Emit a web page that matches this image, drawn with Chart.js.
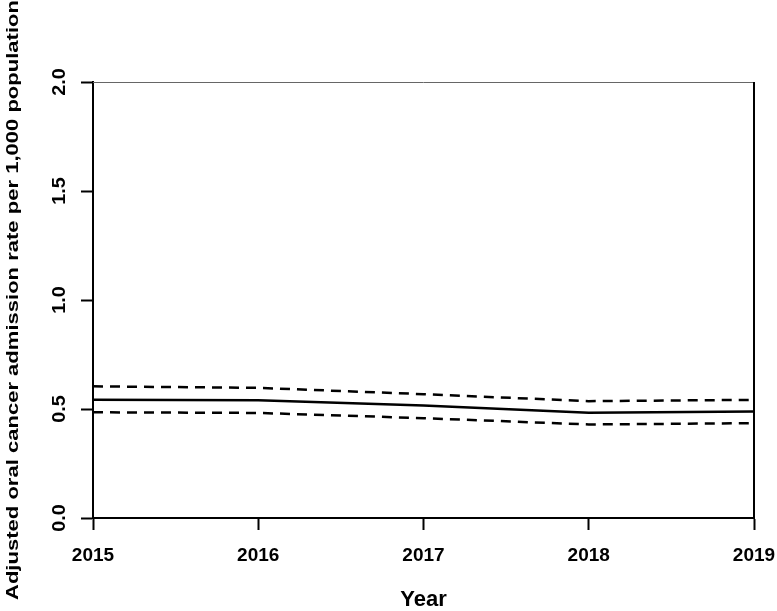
<!DOCTYPE html>
<html>
<head>
<meta charset="utf-8">
<title>Adjusted oral cancer admission rate</title>
<script src="https://cdn.jsdelivr.net/npm/chart.js@4"></script>
<style>
    html, body { margin: 0; padding: 0; background: #fff; }
    #chartWrap { width: 777px; height: 611px; position: relative; }
</style>
</head>
<body>
<div id="chartWrap"><canvas id="rateChart"></canvas></div>
<script>
// Data
const years = ['2015', '2016', '2017', '2018', '2019'];
const rateEstimate = [0.543, 0.540, 0.516, 0.483, 0.488];
const upperLimit = [0.604, 0.597, 0.568, 0.536, 0.542];
const lowerLimit = [0.485, 0.482, 0.458, 0.429, 0.435];
const yTickValues = [0, 0.5, 1.0, 1.5, 2.0];
const yTitle = 'Adjusted oral cancer admission rate per 1,000 population';

const FONT = '"Liberation Sans", Arial, sans-serif';

// R style y labels and y title: rotated, reading bottom to top
const rotatedYText = {
    id: 'rotatedYText',
    afterDraw(chart) {
        const ctx = chart.ctx;
        const yScale = chart.scales.y;
        const area = chart.chartArea;
        ctx.save();
        ctx.fillStyle = '#000';
        ctx.textAlign = 'center';
        ctx.textBaseline = 'alphabetic';

        ctx.font = 'bold 18px ' + FONT;
        yScale.ticks.forEach(tick => {
            const y = yScale.getPixelForValue(tick.value);
            ctx.save();
            ctx.translate(64.5, y);
            ctx.rotate(-Math.PI / 2);
            ctx.scale(1.1, 1);
            ctx.fillText(tick.value.toFixed(1), 0, 0);
            ctx.restore();
        });

        // title is long and narrow in the figure, stretch it along its length
        ctx.font = 'bold 17px ' + FONT;
        const stretch = 600 / ctx.measureText(yTitle).width;
        ctx.save();
        ctx.translate(17.5, (area.top + area.bottom) / 2);
        ctx.rotate(-Math.PI / 2);
        ctx.scale(stretch, 1);
        ctx.fillText(yTitle, 0, 0);
        ctx.restore();

        ctx.restore();
    }
};

// Box round the plot: thin grey top, black right side
const plotFrame = {
    id: 'plotFrame',
    afterDraw(chart) {
        const ctx = chart.ctx;
        const a = chart.chartArea;
        ctx.save();
        ctx.strokeStyle = '#666';
        ctx.lineWidth = 1;
        ctx.beginPath();
        ctx.moveTo(a.left, a.top + 0.5);
        ctx.lineTo(a.right, a.top + 0.5);
        ctx.stroke();
        ctx.strokeStyle = '#000';
        ctx.lineWidth = 2;
        ctx.beginPath();
        ctx.moveTo(a.right, a.top);
        ctx.lineTo(a.right, a.bottom);
        ctx.stroke();
        ctx.restore();
    }
};

function lineDataset(label, values, dashed) {
    return {
        label: label,
        data: values,
        borderColor: '#000',
        borderWidth: 2.5,
        borderDash: dashed ? [10, 7] : [],
        pointRadius: 0,
        tension: 0,
        fill: false
    };
}

function initializeRateChart() {
    const ctx = document.getElementById('rateChart');
    new Chart(ctx, {
        type: 'line',
        data: {
            labels: years,
            datasets: [
                lineDataset('Upper limit', upperLimit, true),
                lineDataset('Adjusted rate', rateEstimate, false),
                lineDataset('Lower limit', lowerLimit, true)
            ]
        },
        options: {
            responsive: true,
            maintainAspectRatio: false,
            animation: false,
            layout: { padding: { top: 82, right: 23, left: 0, bottom: 0 } },
            plugins: {
                legend: { display: false },
                tooltip: { enabled: false }
            },
            scales: {
                x: {
                    offset: false,
                    border: { display: true, color: '#000', width: 2 },
                    grid: {
                        drawOnChartArea: false,
                        drawTicks: true,
                        tickLength: 12,
                        tickWidth: 2,
                        tickColor: '#000'
                    },
                    ticks: {
                        color: '#000',
                        font: { family: FONT, size: 19, weight: 'bold' },
                        padding: 14,
                        maxRotation: 0,
                        autoSkip: false
                    },
                    title: {
                        display: true,
                        text: 'Year',
                        color: '#000',
                        font: { family: FONT, size: 22, weight: 'bold', lineHeight: 1.0 },
                        padding: 0
                    },
                    afterFit(scale) {
                        scale.height = 93;
                        scale.paddingLeft = 0;
                        scale.paddingRight = 0;
                    }
                },
                y: {
                    min: 0,
                    max: 2,
                    afterBuildTicks(scale) {
                        scale.ticks = yTickValues.map(v => ({ value: v }));
                    },
                    border: { display: true, color: '#000', width: 2 },
                    grid: {
                        drawOnChartArea: false,
                        drawTicks: true,
                        tickLength: 12,
                        tickWidth: 2,
                        tickColor: '#000'
                    },
                    ticks: { display: false },
                    title: { display: false },
                    afterFit(scale) { scale.width = 93; }
                }
            }
        },
        plugins: [rotatedYText, plotFrame]
    });
}

document.addEventListener('DOMContentLoaded', initializeRateChart);
</script>
</body>
</html>
